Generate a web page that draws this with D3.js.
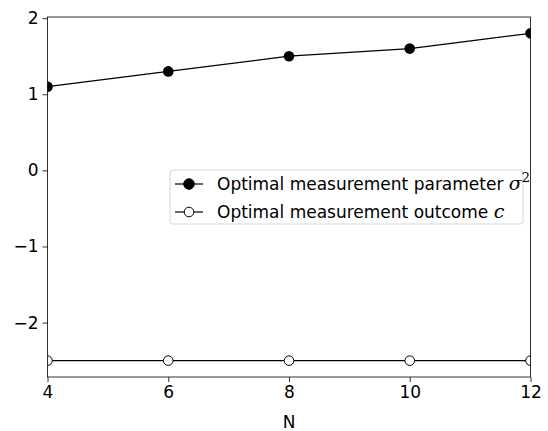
<!DOCTYPE html>
<html>
<head>
<meta charset="utf-8">
<script src="https://cdn.jsdelivr.net/npm/d3@7"></script>
<style>
  body { margin: 0; background: #fff; }
  text { font-family: "DejaVu Sans", sans-serif; fill: #000; }
</style>
</head>
<body>
<div id="chart"></div>
<script>
// Data
const nValues = [4, 6, 8, 10, 12];
const sigmaSq = [1.1, 1.3, 1.5, 1.6, 1.8];
const outcomeC = [-2.5, -2.5, -2.5, -2.5, -2.5];
const xTicks = [4, 6, 8, 10, 12];
const yTicks = [-2, -1, 0, 1, 2];

const width = 548, height = 431;
const margin = { left: 47.5, right: 17.5, top: 17, bottom: 54 };
const innerW = width - margin.left - margin.right;
const innerH = height - margin.top - margin.bottom;
const fontSize = "17px";

const svg = d3.select("#chart").append("svg")
    .attr("width", width)
    .attr("height", height);

const g = svg.append("g")
    .attr("transform", `translate(${margin.left},${margin.top})`);

const x = d3.scaleLinear().domain([4, 12]).range([0, innerW]);
const y = d3.scaleLinear().domain([-2.715, 2.015]).range([innerH, 0]);

// Axes
const xAxis = g.append("g")
    .attr("transform", `translate(0,${innerH})`)
    .call(d3.axisBottom(x).tickValues(xTicks).tickSize(5).tickPadding(4));
const yAxis = g.append("g")
    .call(d3.axisLeft(y).tickValues(yTicks).tickSize(5).tickPadding(4)
        .tickFormat(d => d < 0 ? "\u2212" + Math.abs(d) : d));

[xAxis, yAxis].forEach(a => {
    a.attr("font-size", null).attr("font-family", null);
    a.select(".domain").remove();
    a.selectAll("line").attr("stroke", "#000").attr("stroke-width", 0.8);
    a.selectAll("text").style("font-size", fontSize).attr("fill", "#000");
});

// Lines and markers
const line = d3.line().x(d => x(d[0])).y(d => y(d[1]));

svg.append("defs").append("clipPath").attr("id", "clip")
    .append("rect").attr("width", innerW).attr("height", innerH);

const plot = g.append("g").attr("clip-path", "url(#clip)");

const s1 = nValues.map((n, i) => [n, sigmaSq[i]]);
const s2 = nValues.map((n, i) => [n, outcomeC[i]]);

plot.append("path").datum(s1).attr("d", line)
    .attr("fill", "none").attr("stroke", "#000").attr("stroke-width", 1.2);
plot.append("path").datum(s2).attr("d", line)
    .attr("fill", "none").attr("stroke", "#000").attr("stroke-width", 1.2);

plot.selectAll(".dot1").data(s1).enter().append("circle")
    .attr("cx", d => x(d[0])).attr("cy", d => y(d[1])).attr("r", 5.3)
    .attr("fill", "#000");
plot.selectAll(".dot2").data(s2).enter().append("circle")
    .attr("cx", d => x(d[0])).attr("cy", d => y(d[1])).attr("r", 4.8)
    .attr("fill", "#fff").attr("stroke", "#000").attr("stroke-width", 1);

// Frame
g.append("rect").attr("width", innerW).attr("height", innerH)
    .attr("fill", "none").attr("stroke", "#000").attr("stroke-width", 0.8);

// X label
g.append("text")
    .attr("x", innerW / 2).attr("y", innerH + 51)
    .attr("text-anchor", "middle").style("font-size", fontSize)
    .text("N");

// Legend
const legend = svg.append("g").attr("transform", "translate(170,170)");
legend.append("rect").attr("width", 353).attr("height", 54).attr("rx", 3)
    .attr("fill", "#fff").attr("fill-opacity", 0.8)
    .attr("stroke", "#d6d6d6").attr("stroke-width", 1);

const legendItems = [
    { label: "Optimal measurement parameter ", sym: "\u03c3", sup: "2", filled: true },
    { label: "Optimal measurement outcome ", sym: "c", sup: null, filled: false }
];

legendItems.forEach((item, i) => {
    const row = legend.append("g").attr("transform", `translate(0,${14 + i * 28})`);
    row.append("line").attr("x1", 5).attr("x2", 33).attr("y1", 0).attr("y2", 0)
        .attr("stroke", "#000").attr("stroke-width", 1.2);
    row.append("circle").attr("cx", 19).attr("cy", 0).attr("r", item.filled ? 5.3 : 4.8)
        .attr("fill", item.filled ? "#000" : "#fff")
        .attr("stroke", "#000").attr("stroke-width", 1);
    const t = row.append("text").attr("x", 47).attr("y", 6)
        .style("font-size", fontSize);
    t.append("tspan").text(item.label);
    t.append("tspan").style("font-family", "'DejaVu Serif', serif")
        .style("font-style", "italic").style("font-size", "19px").text(item.sym);
    if (item.sup) {
        t.append("tspan").attr("dy", -8).style("font-family", "'DejaVu Serif', serif")
            .style("font-size", "13px").text(item.sup);
    }
});
</script>
</body>
</html>
